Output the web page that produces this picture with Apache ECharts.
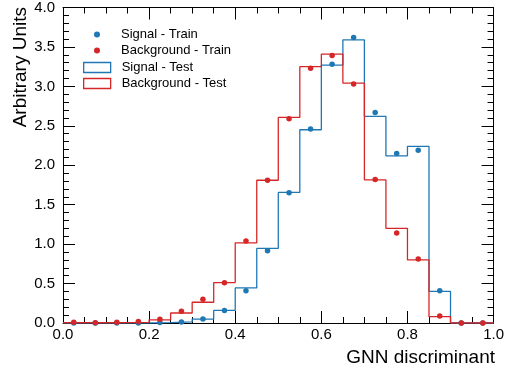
<!DOCTYPE html>
<html>
<head>
<meta charset="utf-8">
<script src="https://cdn.jsdelivr.net/npm/echarts@6/dist/echarts.min.js"></script>
<style>
html, body { margin: 0; padding: 0; background: #fff; }
#chart { width: 507px; height: 374px; }
</style>
</head>
<body>
<div id="chart"></div>
<script>
// bin edges (left) and centres of the 20 histogram bins
var binEdges = [0, 0.05, 0.1, 0.15, 0.2, 0.25, 0.3, 0.35, 0.4, 0.45,
    0.5, 0.55, 0.6, 0.65, 0.7, 0.75, 0.8, 0.85, 0.9, 0.95, 1.0];
var binCenters = [0.025, 0.075, 0.125, 0.175, 0.225, 0.275, 0.325, 0.375, 0.425, 0.475,
    0.525, 0.575, 0.625, 0.675, 0.725, 0.775, 0.825, 0.875, 0.925, 0.975];

var signalTest = [0, 0, 0, 0, 0.005, 0.015, 0.05, 0.16, 0.445, 0.945,
    1.655, 2.45, 3.27, 3.59, 2.62, 2.12, 2.24, 0.40, 0, 0];
var signalTrain = [0, 0, 0, 0, 0.005, 0.013, 0.05, 0.16, 0.41, 0.915,
    1.65, 2.46, 3.28, 3.62, 2.67, 2.15, 2.19, 0.41, 0, 0];
var backgroundTest = [0.003, 0.003, 0.005, 0.008, 0.04, 0.127, 0.263, 0.513, 1.017, 1.81,
    2.606, 3.25, 3.41, 3.04, 1.814, 1.2, 0.80, 0.08, 0, 0];
var backgroundTrain = [0.008, 0.004, 0.008, 0.02, 0.047, 0.15, 0.30, 0.51, 1.04, 1.81,
    2.59, 3.23, 3.39, 3.03, 1.82, 1.14, 0.81, 0.09, 0, 0];

var BLUE = "#1f77b4";
var RED = "#d62728";
var FONT = "Liberation Sans";

// step histogram: value held from left edge to next edge
function stepData(vals) {
    var d = [];
    for (var i = 0; i < vals.length; i++) d.push([binEdges[i], vals[i]]);
    d.push([binEdges[vals.length], vals[vals.length - 1]]);
    return d;
}
function pointData(vals) {
    return vals.map(function (v, i) { return [binCenters[i], v]; });
}

var tickStyle = { inside: true, length: 12, lineStyle: { color: "#000", width: 1 } };
var minorStyle = { show: true, length: 6, lineStyle: { color: "#000", width: 1 } };
var legendText = { fontFamily: FONT, fontSize: 13, color: "#000" };

var chart = echarts.init(document.getElementById("chart"));
chart.setOption({
    animation: false,
    grid: { left: 63, right: 12, top: 7, bottom: 51 },
    xAxis: [{
        type: "value", min: 0, max: 1, interval: 0.2,
        axisLine: { show: true, onZero: false, lineStyle: { color: "#000", width: 1 } },
        axisTick: tickStyle,
        minorTick: Object.assign({ splitNumber: 4 }, minorStyle),
        splitLine: { show: false },
        axisLabel: { color: "#000", fontFamily: FONT, fontSize: 15, margin: 4,
            formatter: function (v) { return v.toFixed(1); } }
    }, {
        type: "value", min: 0, max: 1, interval: 0.2, position: "top",
        axisLine: { show: true, onZero: false, lineStyle: { color: "#000", width: 1 } },
        axisTick: tickStyle,
        minorTick: Object.assign({ splitNumber: 4 }, minorStyle),
        splitLine: { show: false },
        axisLabel: { show: false }
    }],
    yAxis: [{
        type: "value", min: 0, max: 4, interval: 0.5,
        axisLine: { show: true, onZero: false, lineStyle: { color: "#000", width: 1 } },
        axisTick: tickStyle,
        minorTick: Object.assign({ splitNumber: 5 }, minorStyle),
        splitLine: { show: false },
        axisLabel: { color: "#000", fontFamily: FONT, fontSize: 15, margin: 8,
            formatter: function (v) { return v.toFixed(1); } }
    }, {
        type: "value", min: 0, max: 4, interval: 0.5, position: "right",
        axisLine: { show: true, onZero: false, lineStyle: { color: "#000", width: 1 } },
        axisTick: tickStyle,
        minorTick: Object.assign({ splitNumber: 5 }, minorStyle),
        splitLine: { show: false },
        axisLabel: { show: false }
    }],
    legend: [
        { data: [{ name: "Signal - Train", icon: "circle" }], left: 89, top: 23, itemWidth: 6, itemHeight: 6,
          textStyle: Object.assign({ padding: [0, 0, 0, 16] }, legendText) },
        { data: [{ name: "Background - Train", icon: "circle" }], left: 89, top: 39, itemWidth: 6, itemHeight: 6,
          textStyle: Object.assign({ padding: [0, 0, 0, 16] }, legendText) },
        { data: [{ name: "Signal - Test", icon: "rect",
                   itemStyle: { color: "transparent", borderColor: BLUE, borderWidth: 1.3 } }],
          left: 78, top: 56, itemWidth: 27, itemHeight: 10,
          textStyle: Object.assign({ padding: [0, 0, 0, 6] }, legendText) },
        { data: [{ name: "Background - Test", icon: "rect",
                   itemStyle: { color: "transparent", borderColor: RED, borderWidth: 1.3 } }],
          left: 78, top: 72, itemWidth: 27, itemHeight: 10,
          textStyle: Object.assign({ padding: [0, 0, 0, 6] }, legendText) }
    ],
    graphic: [
        { type: "text", x: 495, y: 358, style: { text: "GNN discriminant", fontFamily: FONT,
            fontSize: 19, fill: "#000", textAlign: "right", textVerticalAlign: "middle" } },
        { type: "text", x: 21, y: 7, rotation: Math.PI / 2, style: { text: "Arbitrary Units",
            fontFamily: FONT, fontSize: 19, fill: "#000", textAlign: "right", textVerticalAlign: "middle" } }
    ],
    series: [{
        name: "Signal - Test", type: "line", step: "end", data: stepData(signalTest),
        showSymbol: false, lineStyle: { color: BLUE, width: 1.3 }, itemStyle: { color: BLUE }, z: 2
    }, {
        name: "Background - Test", type: "line", step: "end", data: stepData(backgroundTest),
        showSymbol: false, lineStyle: { color: RED, width: 1.3 }, itemStyle: { color: RED }, z: 2
    }, {
        name: "Signal - Train", type: "scatter", data: pointData(signalTrain), symbolSize: 5.5,
        itemStyle: { color: BLUE, opacity: 1 }, z: 3
    }, {
        name: "Background - Train", type: "scatter", data: pointData(backgroundTrain), symbolSize: 5.5,
        itemStyle: { color: RED, opacity: 1 }, z: 3
    }]
});
</script>
</body>
</html>
